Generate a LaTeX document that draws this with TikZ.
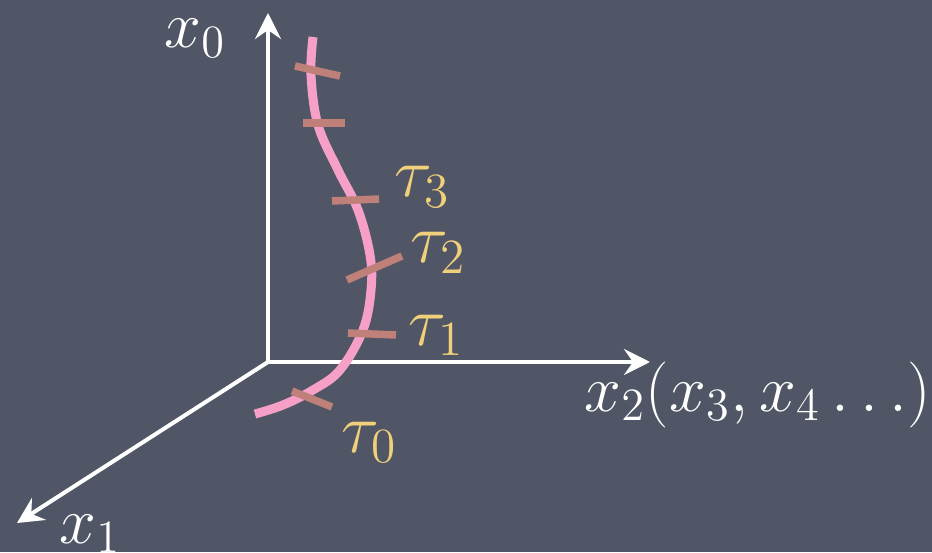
\RequirePackage{fix-cm}
\documentclass[tikz,border=0pt]{standalone}
\usepackage{amsmath}
\usepackage{xcolor}
\usepackage{tikz}
\usetikzlibrary{arrows.meta}
\definecolor{boardgray}{RGB}{80,86,101}
\definecolor{worldpink}{RGB}{246,160,200}
\definecolor{tickbrown}{RGB}{190,128,120}
\definecolor{taugold}{RGB}{240,208,122}
\tikzset{
  axis/.style={white,line width=0.4mm,-{Stealth[length=2.6mm,width=2.6mm,inset=0.9mm]}},
  lbl/.style={anchor=base west,inner sep=0pt,font=\fontsize{18.8}{22}\selectfont},
  taulbl/.style={lbl,text=taugold,font=\fontsize{20}{24}\selectfont}
}

\begin{document}
\begin{tikzpicture}[x=0.1mm,y=-0.1mm]
  \fill[boardgray] (0,0) rectangle (932,552);
  \coordinate (o) at (268,362);
  \coordinate (x0tip) at (268,13);
  \coordinate (x1tip) at (17,523);
  \coordinate (x2tip) at (650,362);
  \draw[axis] (o) -- (x0tip);
  \draw[axis] (o) -- (x2tip);
  \draw[axis] (o) -- (x1tip);
  \node[lbl,text=white] (lx0) at (164,48) {$x_0$};
  \node[lbl,text=white] (lx1) at (59,543) {$x_1$};
  \node[lbl,text=white] (lx2) at (584,411) {$x_2(x_3,x_4\ldots)$};
  % world line
  \draw[worldpink,line width=0.9mm,line cap=butt] plot[smooth,tension=0.6] coordinates
    {(313,37) (311,75) (318,125) (338,170) (358,210) (370,255) (371,290) (363,330) (340,370) (313,390) (283,405) (255,414)};
  \foreach \xa/\ya/\xb/\yb in {295/66/340/76, 303/123/345/123, 332/201/379/199,
                               347/280/402/256, 348/333/396/335, 292/391/332/407}
    { \draw[tickbrown,line width=0.75mm] (\xa,\ya) -- (\xb,\yb); }
  \node[taulbl] (t3) at (394,197) {$\tau_3$};
  \node[taulbl] (t2) at (410,263) {$\tau_2$};
  \node[taulbl] (t1) at (408,345) {$\tau_1$};
  \node[taulbl] (t0) at (341,452) {$\tau_0$};
\end{tikzpicture}
\end{document}
